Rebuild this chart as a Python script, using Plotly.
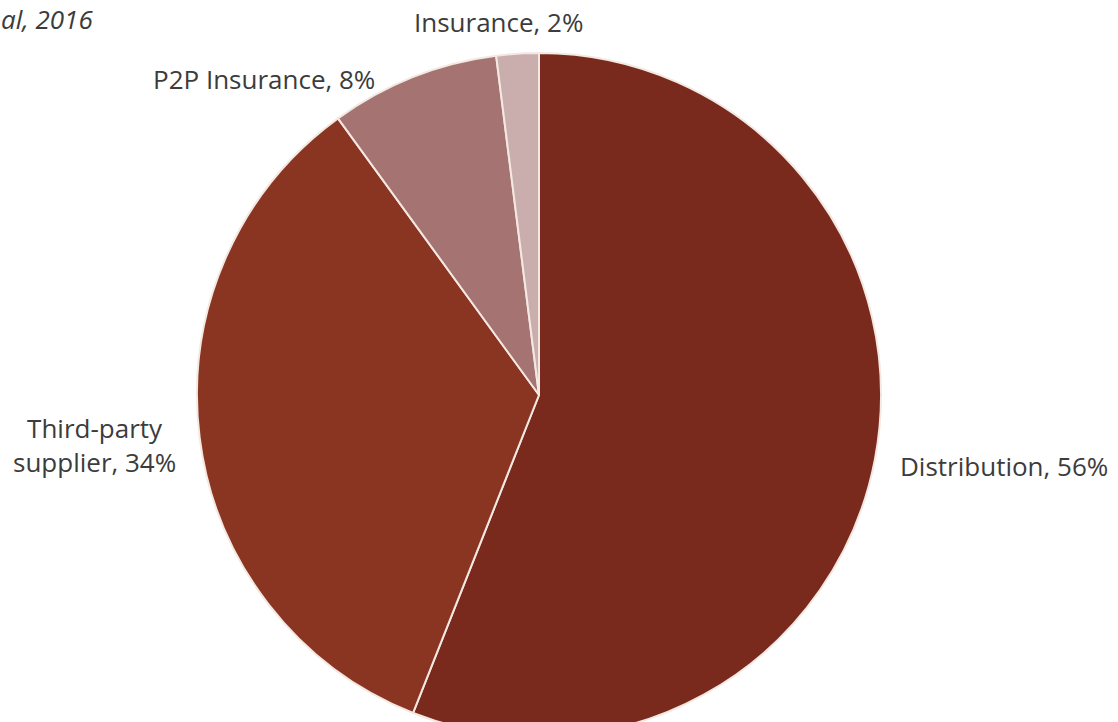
import plotly.graph_objects as go

categories = ["Distribution", "Third-party supplier", "P2P Insurance", "Insurance"]
values = [56, 34, 8, 2]
colors = ["#7A2A1D", "#8A3521", "#A57371", "#CAAEAE"]

W, H = 1118, 737

fig = go.Figure(go.Pie(
    labels=categories,
    values=values,
    sort=False,
    direction="clockwise",
    rotation=0,
    textinfo="none",
    hoverinfo="label+percent",
    marker=dict(colors=colors, line=dict(color="#F3E8E2", width=2)),
    domain=dict(x=[0, 1078 / W], y=[0, 684 / H]),
    showlegend=False,
))

# label positions in page pixels (centre of text)
label_pos = {
    "Distribution": (1004, 466, "Distribution"),
    "Third-party supplier": (94, 445, "Third-party<br>supplier"),
    "P2P Insurance": (264, 79, "P2P Insurance"),
    "Insurance": (498, 22, "Insurance"),
}
font = dict(family="'Open Sans', sans-serif", size=26, color="#3C3C3C")
for cat, val in zip(categories, values):
    px, py, txt = label_pos[cat]
    fig.add_annotation(
        x=px / W, y=1 - py / H, xref="paper", yref="paper",
        text=f"{txt}, {val}%", showarrow=False, font=font,
        xanchor="center", yanchor="middle", align="center",
    )

fig.add_annotation(
    x=0, y=1, xref="paper", yref="paper",
    text="<i>al, 2016</i>", showarrow=False, font=font,
    xanchor="left", yanchor="top", borderpad=0,
)

fig.update_layout(
    width=W, height=H,
    margin=dict(l=0, r=0, t=0, b=0),
    paper_bgcolor="white", plot_bgcolor="white",
)

fig.write_html("out.html", post_script="document.documentElement.style.overflow='hidden';document.body.style.overflow='hidden';document.body.style.margin='0';")
